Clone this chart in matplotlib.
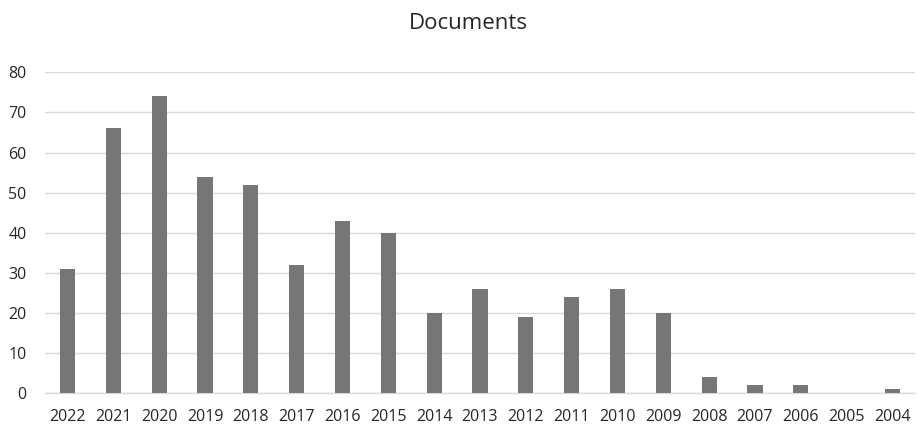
import matplotlib
matplotlib.use("Agg")
import matplotlib.pyplot as plt
import numpy as np

years = ["2022", "2021", "2020", "2019", "2018", "2017", "2016", "2015", "2014", "2013",
         "2012", "2011", "2010", "2009", "2008", "2007", "2006", "2005", "2004"]
documents = [31, 66, 74, 54, 52, 32, 43, 40, 20, 26, 19, 24, 26, 20, 4, 2, 2, 0, 1]
yticks = [0, 10, 20, 30, 40, 50, 60, 70, 80]

plt.rcParams['font.family'] = ['Open Sans', 'DejaVu Sans']

fig = plt.figure(figsize=(9.17, 4.25), dpi=100)
ax = fig.add_axes([44.6 / 917, 1 - 393.3 / 425, (915.4 - 44.6) / 917, (393.3 - 72.3) / 425])

x = np.arange(len(years))
ax.bar(x, documents, width=0.33, color="#767676", zorder=3)
ax.set_xlim(-0.5, len(years) - 0.5)
ax.set_ylim(0, 80)
ax.set_yticks(yticks)
ax.set_xticks(x)
ax.set_xticklabels(years)
ax.grid(axis="y", color="#d9d9d9", linewidth=1, zorder=0)
for s in ["top", "right", "left"]:
    ax.spines[s].set_visible(False)
ax.spines["bottom"].set_color("#d9d9d9")
ax.spines["bottom"].set_linewidth(1)
ax.tick_params(axis="both", length=0, labelsize=11.5, colors="#262626")
ax.tick_params(axis="y", pad=13)
ax.tick_params(axis="x", pad=11)
fig.text(468 / 917, 1 - 29 / 425, "Documents", ha="center", va="baseline",
         fontsize=16, color="#262626")
fig.savefig("out.png", dpi=100)
